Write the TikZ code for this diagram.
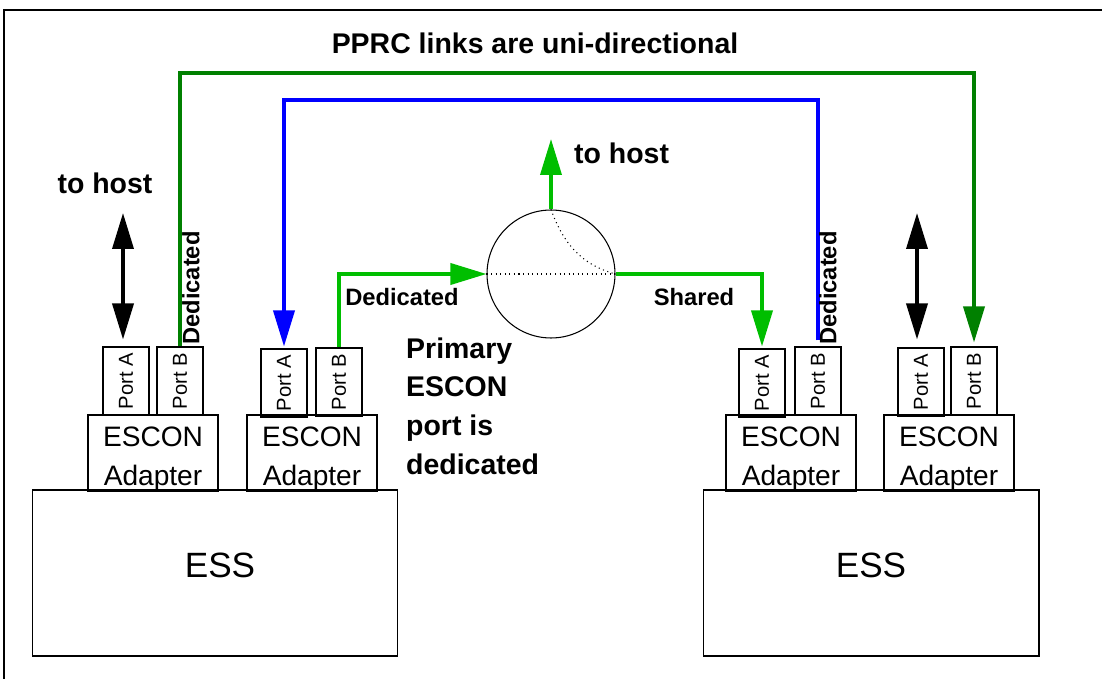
\documentclass[tikz,border=0pt]{standalone}
\usepackage{fontspec}
\setmainfont{Liberation Sans}
\usetikzlibrary{arrows.meta}
\definecolor{pprcgreen}{RGB}{0,128,0}
\definecolor{linkgreen}{RGB}{0,190,0}
\tikzset{
  box/.style={draw, line width=0.6pt, inner sep=0pt},
  ess/.style={box, minimum width=7.32cm, minimum height=3.32cm, text depth=9pt, font=\fontsize{20}{24}\selectfont},
  adapter/.style={box, minimum width=2.6cm, minimum height=1.52cm, text height=37pt, text depth=0pt, align=center, font=\fontsize{16}{22}\selectfont},
  port/.style={box, rotate=90, minimum width=1.36cm, minimum height=0.92cm, font=\fontsize{11.5}{13}\selectfont},
  link/.style={line width=2.1pt, -{Triangle[length=0.72cm,width=0.42cm]}},
  hostlink/.style={line width=2.1pt, {Triangle[length=0.72cm,width=0.42cm]}-{Triangle[length=0.72cm,width=0.42cm]}},
  lbl/.style={font=\fontsize{16.2}{22}\selectfont\bfseries},
  linklbl/.style={font=\fontsize{13.5}{16}\selectfont\bfseries},
}
\begin{document}
\begin{tikzpicture}[x=0.02cm, y=-0.02cm]
\useasboundingbox (0,0) rectangle (1102,679);
\draw[line width=0.6pt] (4,679) -- (4,10) -- (1102,10);

\node[ess] (essL) at (215,573) {\hspace*{0.2cm}ESS};
\node[ess, minimum width=6.72cm] (essR) at (871,573) {ESS};

\node[adapter] (ad1) at (153,453) {ESCON\\Adapter};
\node[adapter] (ad2) at (312,453) {ESCON\\Adapter};
\node[adapter] (ad3) at (791,453) {ESCON\\Adapter};
\node[adapter] (ad4) at (949,453) {ESCON\\Adapter};

\node[port] (pA1) at (126,381) {Port A};
\node[port] (pB1) at (180,381) {Port B};
\node[port] (pA2) at (284,383) {Port A};
\node[port] (pB2) at (339,382) {Port B};
\node[port] (pA3) at (762,383) {Port A};
\node[port] (pB3) at (818,381) {Port B};
\node[port] (pA4) at (921,382) {Port A};
\node[port] (pB4) at (974,381) {Port B};

\node[draw, circle, line width=0.6pt, minimum size=2.56cm, inner sep=0pt] (sw) at (551,274) {};
\draw[dotted, line width=0.6pt] (sw.west) -- (sw.east);
\draw[dotted, line width=0.6pt] (sw.north) to[out=-70, in=165] (sw.east);

\coordinate (hostL) at (123,213);
\coordinate (hostR) at (917,213);
\coordinate (hostM) at (551,139);
\coordinate (pprcTop) at (550,73);
\coordinate (mirTop) at (550,100);

\draw[hostlink, shorten >=0.14cm] (hostL) -- (hostL |- pA1.east);
\draw[hostlink, shorten >=0.16cm] (hostR) -- (hostR |- pA4.east);

\draw[link, pprcgreen, shorten >=0.08cm] (pB1.east) |- (pprcTop) -| (pB4.east);
\draw[link, blue, shorten <=0.12cm, shorten >=0.04cm] (pB3.east) |- (mirTop) -| (pA2.east);
\draw[link, linkgreen] (pB2.east) |- (sw.west);
\draw[link, linkgreen, shorten >=0.04cm] (sw.east) -| (pA3.east);
\draw[link, linkgreen] (sw.north) -- (hostM);

\node[lbl] (title) at (535,43) {PPRC links are uni-directional};
\node[lbl] (hostLtxt) at (105,183) {to host};
\node[lbl, anchor=west] (hostMtxt) at (568,153) {to host};
\node[linklbl, rotate=90] (dedL) at (191,288) {Dedicated};
\node[linklbl, rotate=90] (dedR) at (828,288) {Dedicated};
\node[linklbl] (dedM) at (402,297) {Dedicated};
\node[linklbl] (shared) at (694,297) {Shared};
\node[lbl, anchor=west, align=left] (primary) at (400,406) {Primary\\ESCON\\port is\\dedicated};
\end{tikzpicture}
\end{document}
